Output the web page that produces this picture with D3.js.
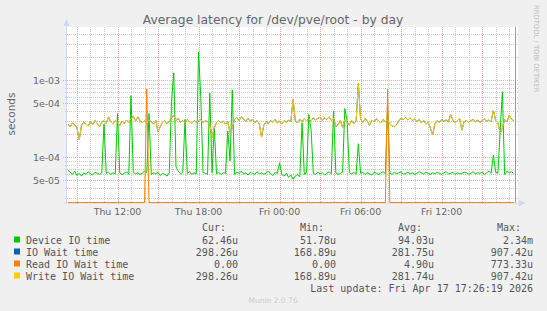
<!DOCTYPE html>
<html><head><meta charset="utf-8">
<script src="https://cdn.jsdelivr.net/npm/d3@7"></script>
<style>body{margin:0;background:#F0F0F0} svg{display:block}</style>
</head><body><svg id="c" width="547" height="311"></svg>
<script>
// ---- data (5-min rrd sampled every 10 minutes, values in microseconds) ----
const startTime = Date.UTC(2026, 3, 16, 8, 20);   // Thu 08:20
const stepMinutes = 10;
const deviceIoUs = [
  68, 64, 60, 66, 58, 62, 57, 63, 60, 65,
  61, 59, 64, 62, 60, 63, 270, 62, 64, 60,
  63, 61, 370, 63, 59, 62, 65, 60, 630, 64,
  61, 63, 60, 62, 66, 63, 370, 60, 63, 61,
  64, 58, 62, 60, 57, 63, 530, 1250, 75, 66,
  61, 64, 310, 62, 65, 60, 63, 61, 2340, 600,
  64, 62, 60, 680, 63, 250, 61, 64, 60, 63,
  62, 220, 90, 750, 60, 64, 62, 66, 61, 63,
  59, 64, 62, 60, 65, 61, 63, 60, 62, 66,
  61, 58, 64, 62, 85, 60, 57, 62, 55, 59,
  52, 57, 60, 56, 280, 60, 63, 360, 230, 62,
  60, 64, 61, 63, 59, 62, 65, 61, 400, 63,
  60, 62, 64, 430, 300, 63, 61, 64, 60, 150,
  62, 64, 60, 63, 61, 59, 64, 62, 60, 63,
  65, 61, 460, 62, 60, 64, 61, 63, 65, 60,
  62, 64, 61, 63, 60, 62, 65, 63, 61, 64,
  62, 60, 63, 61, 64, 62, 60, 63, 65, 61,
  62, 64, 60, 63, 61, 62, 64, 63, 60, 62,
  65, 61, 63, 62, 64, 60, 63, 66, 62, 107,
  64, 62, 220, 710, 60, 66, 63, 65, 62
];
const writeWaitUs = [
  270, 250, 280, 265, 240, 169, 260, 285, 270, 255,
  290, 265, 300, 275, 250, 285, 300, 275, 335, 290,
  270, 300, 285, 260, 295, 275, 305, 280, 320, 340,
  295, 335, 300, 280, 300, 275, 305, 290, 270, 300,
  215, 250, 285, 300, 270, 295, 330, 345, 300, 320,
  285, 300, 280, 310, 290, 275, 300, 285, 295, 310,
  280, 300, 290, 270, 178, 240, 285, 300, 280, 295,
  270, 290, 206, 240, 310, 330, 300, 335, 315, 290,
  320, 295, 310, 280, 300, 270, 183, 260, 290, 275,
  300, 285, 310, 280, 295, 270, 300, 285, 305, 290,
  570, 300, 280, 310, 290, 320, 300, 315, 295, 325,
  305, 320, 330, 300, 325, 310, 335, 300, 320, 250,
  265, 300, 245, 310, 285, 260, 300, 275, 295, 907,
  310, 285, 320, 295, 260, 305, 290, 315, 300, 280,
  310, 290, 305, 270, 255, 250, 265, 300, 320, 310,
  330, 305, 325, 300, 315, 290, 310, 280, 300, 270,
  285, 240, 196, 270, 300, 285, 310, 295, 305, 290,
  360, 305, 280, 300, 320, 225, 290, 300, 285, 300,
  310, 290, 305, 285, 300, 315, 295, 305, 290, 410,
  300, 280, 205, 240, 310, 290, 350, 315, 298
];
const ioWaitUs = writeWaitUs.slice(); // identical to write wait at this resolution
const readWaitUs = [
  0, 0, 0, 0, 0, 0, 0, 0, 0, 0,
  0, 0, 0, 0, 0, 0, 0, 0, 0, 0,
  0, 0, 0, 0, 0, 0, 0, 0, 0, 0,
  0, 0, 0, 0, 0, 773, 0, 0, 0, 0,
  0, 0, 0, 0, 0, 0, 0, 0, 0, 0,
  0, 0, 0, 0, 0, 0, 0, 0, 0, 0,
  0, 0, 0, 0, 0, 0, 0, 0, 0, 0,
  0, 0, 0, 0, 0, 0, 0, 0, 0, 0,
  0, 0, 0, 0, 0, 0, 0, 0, 0, 0,
  0, 0, 0, 0, 0, 0, 0, 0, 0, 0,
  0, 0, 0, 0, 0, 0, 0, 0, 0, 0,
  0, 0, 0, 0, 0, 0, 0, 0, 0, 0,
  0, 0, 0, 0, 0, 0, 0, 0, 0, 0,
  0, 0, 0, 0, 0, 0, 0, 0, 0, 0,
  0, 0, 760, 0, 0, 0, 0, 0, 0, 0,
  0, 0, 0, 0, 0, 0, 0, 0, 0, 0,
  0, 0, 0, 0, 0, 0, 0, 0, 0, 0,
  0, 0, 0, 0, 0, 0, 0, 0, 0, 0,
  0, 0, 0, 0, 0, 0, 0, 0, 0, 0,
  0, 0, 0, 0, 0, 0, 0, 0, 0
];
const seriesNames = ["Device IO time", "IO Wait time", "Read IO Wait time", "Write IO Wait time"];
const seriesColors = ["#00CC00", "#0066B3", "#FF8000", "#FFCC00"];
const curVals = ["62.46u", "298.26u", "0.00", "298.26u"];
const minVals = ["51.78u", "168.89u", "0.00", "168.89u"];
const avgVals = ["94.03u", "281.75u", "4.90u", "281.74u"];
const maxVals = ["2.34m", "907.42u", "773.33u", "907.42u"];
const yTickValues = [1e-3, 5e-4, 1e-4, 5e-5];
const yTickLabels = ["1e-03", "5e-04", "1e-04", "5e-05"];
const titleText = "Average latency for /dev/pve/root - by day";
const lastUpdate = "Last update: Fri Apr 17 17:26:19 2026";
const timeStart = Date.UTC(2026, 3, 16, 8, 15, 36);
const timeEnd = Date.UTC(2026, 3, 17, 17, 39, 20);
const nowTime = Date.UTC(2026, 3, 17, 17, 26, 19);

// ---- layout ----
const L = 67, R = 518, T = 27, B = 202.5;
const svg = d3.select("#c");
const x = d3.scaleUtc().domain([timeStart, timeEnd]).range([L, R]);
const y = d3.scaleLog().domain([2.59e-5, 4.92e-3]).range([B, T]);
const FONT = "DejaVu Sans, sans-serif";

svg.append("rect").attr("width", 547).attr("height", 311).attr("fill", "#F0F0F0");
svg.append("rect").attr("x", L).attr("y", T).attr("width", R - L).attr("height", B - T).attr("fill", "#FFFFFF");

// grid
const g = svg.append("g");
const yGrid = y.ticks();
yGrid.forEach(v => {
  const m = Math.round(v / Math.pow(10, Math.floor(Math.log10(v) + 1e-9)));
  const major = (m === 1 || m === 5);
  const yy = Math.round(y(v)) + 0.5;
  if (yy < T || yy > B) return;
  g.append("line").attr("x1", major ? 63 : 65).attr("x2", major ? 519 : 518)
    .attr("y1", yy).attr("y2", yy)
    .attr("stroke", major ? "#F0A8A8" : "#CCCCCC").attr("stroke-dasharray", "1,1");
});
const hours = d3.utcHour.range(new Date(timeStart), new Date(timeEnd));
hours.forEach(h => {
  const major = h.getUTCHours() % 3 === 0;
  const xx = Math.round(x(h)) + 0.5;
  g.append("line").attr("x1", xx).attr("x2", xx).attr("y1", T).attr("y2", major ? 205 : B)
    .attr("stroke", major ? "#F0A8A8" : "#CCCCCC").attr("stroke-dasharray", "1,1");
});

// axes
const axisCol = "#CFD6F8";
svg.append("line").attr("x1", L - 0.5).attr("x2", L - 0.5).attr("y1", 23).attr("y2", B + 1).attr("stroke", axisCol);
svg.append("line").attr("x1", L - 3).attr("x2", 522).attr("y1", B + 0.5).attr("y2", B + 0.5).attr("stroke", axisCol);
svg.append("path").attr("d", `M${L-3.5},26 L${L+2.5},26 L${L-0.5},19 Z`).attr("fill", axisCol);
svg.append("path").attr("d", `M519,${B-2.5} L519,${B+3.5} L526,${B+0.5} Z`).attr("fill", axisCol);

// series
const toY = v => v > 0 ? Math.min(y(v * 1e-6), B) : B;
const lineFor = arr => d3.line()
  .x((d, i) => x(startTime + i * stepMinutes * 60000))
  .y(d => toY(d))(arr);
const allSeries = [deviceIoUs, ioWaitUs, readWaitUs, writeWaitUs];
allSeries.forEach((arr, k) => {
  svg.append("path").attr("d", lineFor(arr)).attr("fill", "none")
    .attr("stroke", seriesColors[k]).attr("stroke-width", 1);
});

// now line
svg.append("line").attr("x1", Math.round(x(nowTime)) + 0.5).attr("x2", Math.round(x(nowTime)) + 0.5)
  .attr("y1", T).attr("y2", B).attr("stroke", "#999999");

// y tick labels
yTickValues.forEach((v, k) => {
  svg.append("text").attr("x", 60).attr("y", y(v) + 3.5).attr("text-anchor", "end")
    .attr("font-family", FONT).attr("font-size", 9.4).attr("fill", "#666").text(yTickLabels[k]);
});
// x tick labels
const fmt = d3.utcFormat("%a %H:%M");
hours.filter(h => h.getUTCHours() % 6 === 0).forEach(h => {
  svg.append("text").attr("x", x(h)).attr("y", 215).attr("text-anchor", "middle")
    .attr("font-family", FONT).attr("font-size", 9.4).attr("fill", "#666").text(fmt(h));
});

// title, axis label, side text
svg.append("text").attr("x", 273).attr("y", 24).attr("text-anchor", "middle")
  .attr("font-family", FONT).attr("font-size", 12.3).attr("fill", "#666").text(titleText);
svg.append("text").attr("transform", "translate(15,114) rotate(-90)").attr("text-anchor", "middle")
  .attr("font-family", FONT).attr("font-size", 10.5).attr("fill", "#666").text("seconds");
svg.append("text").attr("transform", "translate(534,5) rotate(90)").attr("text-anchor", "start")
  .attr("font-family", FONT).attr("font-size", 6.8).attr("fill", "#BBBBBB").text("RRDTOOL / TOBI OETIKER");

// legend
const MONO = "DejaVu Sans Mono, monospace";
const lg = svg.append("g").attr("font-family", MONO).attr("font-size", 10).attr("fill", "#555");
[["Cur:", 226], ["Min:", 324], ["Avg:", 422], ["Max:", 521]].forEach(([t, xx]) => {
  lg.append("text").attr("x", xx).attr("y", 231).attr("text-anchor", "end").text(t);
});
seriesNames.forEach((n, k) => {
  const yy = 243.5 + k * 12;
  svg.append("rect").attr("x", 14).attr("y", yy - 7).attr("width", 6).attr("height", 6).attr("fill", seriesColors[k]);
  lg.append("text").attr("x", 26).attr("y", yy).text(n);
  lg.append("text").attr("x", 238).attr("y", yy).attr("text-anchor", "end").text(curVals[k]);
  lg.append("text").attr("x", 336).attr("y", yy).attr("text-anchor", "end").text(minVals[k]);
  lg.append("text").attr("x", 434).attr("y", yy).attr("text-anchor", "end").text(avgVals[k]);
  lg.append("text").attr("x", 533).attr("y", yy).attr("text-anchor", "end").text(maxVals[k]);
});
lg.append("text").attr("x", 533).attr("y", 291.5).attr("text-anchor", "end").text(lastUpdate);
svg.append("text").attr("x", 273).attr("y", 303).attr("text-anchor", "middle")
  .attr("font-family", FONT).attr("font-size", 7.5).attr("fill", "#CCCCCC").text("Munin 2.0.76");
</script>
</body></html>
